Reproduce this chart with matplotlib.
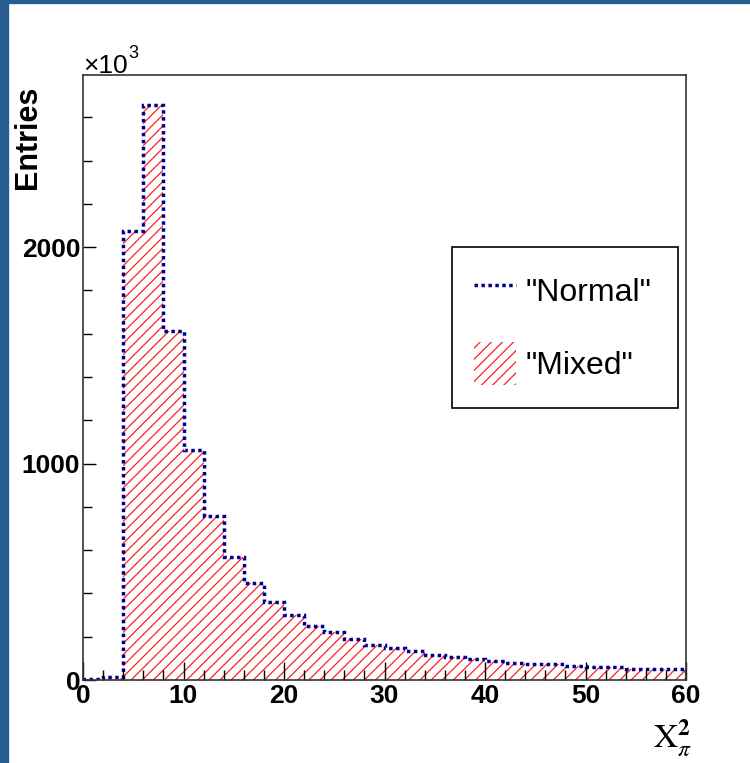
import matplotlib
matplotlib.use("Agg")
import matplotlib.pyplot as plt
from matplotlib.patches import Rectangle, Patch
from matplotlib.lines import Line2D
from matplotlib.ticker import MultipleLocator

plt.rcParams['font.family'] = ['Liberation Sans', 'DejaVu Sans']
plt.rcParams['mathtext.fontset'] = 'stix'
plt.rcParams['hatch.linewidth'] = 0.9

# histogram data, 2-unit bins from 0 to 60
bin_edges = list(range(0, 62, 2))
normal_counts = [3, 12, 2075, 2655, 1612, 1062, 757, 568, 447, 359,
                 300, 251, 220, 191, 160, 148, 135, 117, 108, 95,
                 88, 80, 72, 72, 65, 59, 59, 52, 52, 52]
mixed_counts = [3, 12, 2075, 2655, 1612, 1062, 757, 568, 447, 359,
                300, 251, 220, 191, 160, 148, 135, 117, 108, 95,
                88, 80, 72, 72, 65, 59, 59, 52, 52, 52]
legend_labels = ['"Normal"', '"Mixed"']

navy = '#00008b'
hatch_red = '#ff2020'
W, H = 750, 763
fig = plt.figure(figsize=(W / 100, H / 100), dpi=100)
fig.patch.set_facecolor('white')

# blue frame around the canvas (top and left)
border = '#285d91'
fig.patches.append(Rectangle((0, 1 - 3 / H), 1, 3 / H, transform=fig.transFigure,
                             color=border, zorder=10))
fig.patches.append(Rectangle((0, 0), 8 / W, 1, transform=fig.transFigure,
                             color=border, zorder=10))

ax = fig.add_axes([83 / W, 83 / H, 603 / W, 605 / H])

ax.stairs(mixed_counts, bin_edges, fill=True, facecolor='none', edgecolor=hatch_red,
          hatch='///', linewidth=0)
ax.stairs(normal_counts, bin_edges, color=navy, linewidth=2.5,
          linestyle=(0, (1, 1)))

ax.set_xlim(0, 60)
ax.set_ylim(0, 2795)
ax.xaxis.set_major_locator(MultipleLocator(10))
ax.xaxis.set_minor_locator(MultipleLocator(2))
ax.yaxis.set_major_locator(MultipleLocator(1000))
ax.yaxis.set_minor_locator(MultipleLocator(200))

ax.tick_params(axis='x', which='major', direction='in', length=13, width=1, pad=3, labelsize=19)
ax.tick_params(axis='x', which='minor', direction='in', length=7, width=1)
ax.tick_params(axis='y', which='major', direction='in', length=9.5, width=1, pad=2, labelsize=19)
ax.tick_params(axis='y', which='minor', direction='in', length=6.5, width=1)
for lbl in ax.get_xticklabels() + ax.get_yticklabels():
    lbl.set_fontweight('bold')

for sp in ax.spines.values():
    sp.set_color('#333333')
    sp.set_linewidth(1.2)

# axis titles
fig.text(28 / W, 1 - 137 / H, 'Entries', rotation=90, ha='center', va='center',
         fontsize=22, fontweight='bold')
fig.text(83 / W, 1 - 73 / H, '×10', ha='left', va='baseline', fontsize=19)
fig.text(128 / W, 1 - 58 / H, '3', ha='left', va='baseline', fontsize=13)
fig.text(692 / W, 1 - 748 / H, r'$\mathrm{X}^{\mathbf{2}}_{\pi}$', ha='right',
         va='baseline', fontsize=24)

handles = [Line2D([], [], color=navy, linewidth=2.5, linestyle=(0, (1, 1))),
           Patch(facecolor='white', edgecolor=hatch_red, hatch='///', linewidth=0)]
leg = ax.legend(handles, legend_labels, loc='upper left',
                bbox_to_anchor=(0.612, 0.716, 0.375, 0.0), mode='expand',
                fontsize=23, handlelength=1.3, handleheight=1.7, handletextpad=0.3,
                labelspacing=0.93, borderpad=0.7, borderaxespad=0,
                fancybox=False, framealpha=1, edgecolor='black')
leg.get_frame().set_linewidth(1.2)

fig.savefig('out.png', dpi=100)
